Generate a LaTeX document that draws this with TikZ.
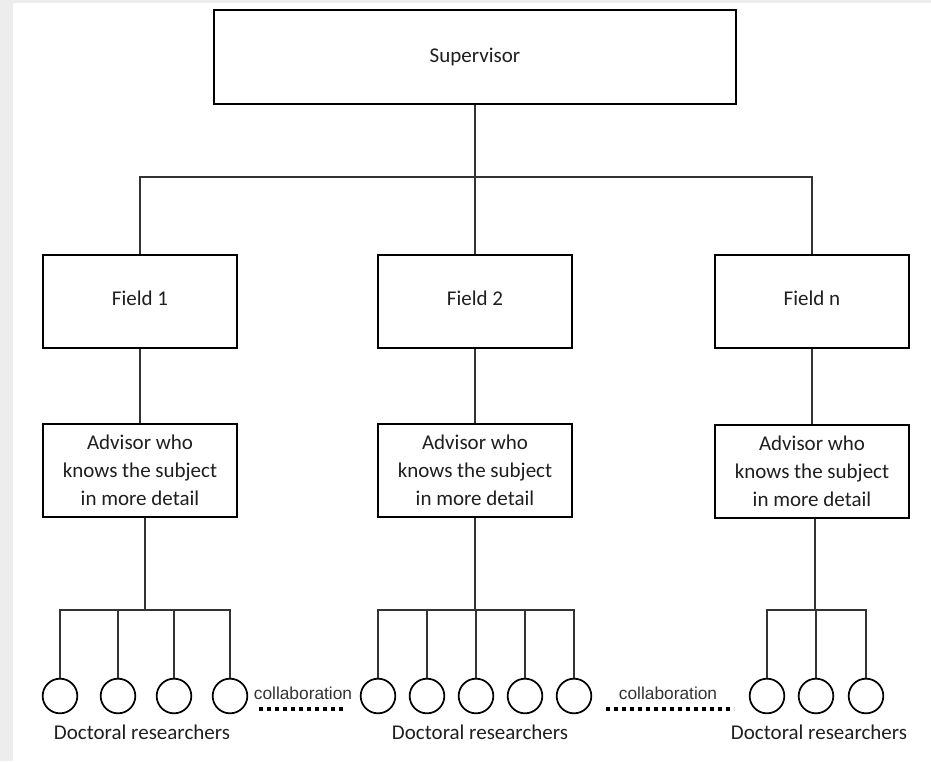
\documentclass[tikz,border=0pt]{standalone}
\usepackage{fontspec}
\setmainfont{Carlito}
\newfontfamily\collabfont{Liberation Sans}
\usetikzlibrary{positioning}
\newcommand{\boxwidth}{145.5pt}
\newcommand{\boxheight}{70pt}

\begin{document}
\begin{tikzpicture}[x=0.75pt, y=-0.75pt,
    every node/.style={font=\fontsize{15.75}{20.8}\selectfont, text=black!88},
    box/.style={draw, line width=1.5pt, minimum width=\boxwidth, minimum height=\boxheight, align=center, inner sep=0pt},
    fieldbox/.style={box, text depth=0.5em},
    link/.style={line width=0.8pt, draw=black!80},
    researcher/.style={circle, draw, line width=1.3pt, minimum size=26pt, inner sep=0pt},
    collab/.style={font=\collabfont\fontsize{13}{15}\selectfont, text=black!80},
    dotline/.style={line width=2.3pt, dash pattern=on 3pt off 3pt}]
            \fill[black!7] (0,0) rectangle (931,761);
            \fill[white] (13,3) rectangle (931,761);
            \useasboundingbox (0,0) rectangle (931,761);

            \node[box, minimum width=392pt] (sup) at (475,57) {Supervisor};
            \node[fieldbox] (field1) at (140,301.5) {Field 1};
            \node[fieldbox] (field2) at (475,301.5) {Field 2};
            \node[fieldbox] (fieldn) at (812,301.5) {Field n};
            \node[box, below=55pt of field1] (adv1) {Advisor who\\knows the subject\\in more detail};
            \node[box, below=55pt of field2] (adv2) {Advisor who\\knows the subject\\in more detail};
            \node[box, below=56pt of fieldn] (advn) {Advisor who\\knows the subject\\in more detail};

            \coordinate (split) at (475,177);
            \draw[link] (sup) -- (split);
            \draw[link] (field1.north) |- (split) -| (fieldn.north);
            \draw[link] (split) -- (field2.north);
            \draw[link] (field1) -- (adv1);
            \draw[link] (field2) -- (adv2);
            \draw[link] (fieldn) -- (advn);

            \node[researcher] (r11) at (60,696) {};
            \node[researcher] (r12) at (118,696) {};
            \node[researcher] (r13) at (174,696) {};
            \node[researcher] (r14) at (230,696) {};
            \node[researcher] (r21) at (378,696) {};
            \node[researcher] (r22) at (427,696) {};
            \node[researcher] (r23) at (476,696) {};
            \node[researcher] (r24) at (525,696) {};
            \node[researcher] (r25) at (574,696) {};
            \node[researcher] (rn1) at (767,696) {};
            \node[researcher] (rn2) at (816,696) {};
            \node[researcher] (rn3) at (866,696) {};

            \coordinate (branch1) at (145,610);
            \coordinate (branch2) at (475,610);
            \coordinate (branchn) at (815,610);
            \draw[link] (adv1.south -| branch1) -- (branch1);
            \draw[link] (adv2.south -| branch2) -- (branch2);
            \draw[link] (advn.south -| branchn) -- (branchn);
            \draw[link] (r11.north) |- (branch1) -| (r14.north);
            \draw[link] (r12.north) -- (r12.north |- branch1);
            \draw[link] (r13.north) -- (r13.north |- branch1);
            \draw[link] (r21.north) |- (branch2) -| (r25.north);
            \draw[link] (r22.north) -- (r22.north |- branch2);
            \draw[link] (r23.north) -- (r23.north |- branch2);
            \draw[link] (r24.north) -- (r24.north |- branch2);
            \draw[link] (rn1.north) |- (branchn) -| (rn3.north);
            \draw[link] (rn2.north) -- (rn2.north |- branchn);

            \node (doc1) at (142,732) {Doctoral researchers};
            \node (doc2) at (480,732) {Doctoral researchers};
            \node (docn) at (819,732) {Doctoral researchers};

            \node[collab] (collab1) at (303,693) {collaboration};
            \node[collab] (collab2) at (668,693) {collaboration};
            \coordinate (dots1a) at (259,709);
            \coordinate (dots1b) at (345,709);
            \coordinate (dots2a) at (606,709);
            \coordinate (dots2b) at (734,709);
            \draw[dotline] (dots1a) -- (dots1b);
            \draw[dotline] (dots2a) -- (dots2b);
        \end{tikzpicture}
\end{document}
